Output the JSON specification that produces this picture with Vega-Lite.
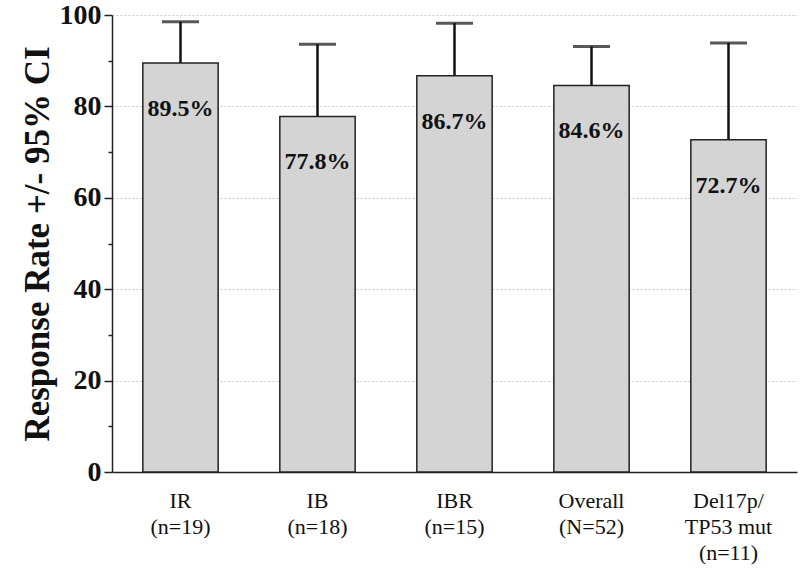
{
  "$schema": "https://vega.github.io/schema/vega-lite/v6.json",
  "width": 685,
  "height": 457,
  "autosize": "none",
  "padding": {"left": 112, "top": 15, "right": 3, "bottom": 96},
  "background": "white",
  "data": {
    "values": [
      {"group": "IR|(n=19)", "rate": 89.5, "upper": 98.5, "label": "89.5%"},
      {"group": "IB|(n=18)", "rate": 77.8, "upper": 93.6, "label": "77.8%"},
      {"group": "IBR|(n=15)", "rate": 86.7, "upper": 98.2, "label": "86.7%"},
      {"group": "Overall|(N=52)", "rate": 84.6, "upper": 93.1, "label": "84.6%"},
      {"group": "Del17p/|TP53 mut|(n=11)", "rate": 72.7, "upper": 93.9, "label": "72.7%"}
    ]
  },
  "encoding": {
    "x": {
      "field": "group", "type": "nominal", "sort": null,
      "scale": {"paddingInner": 0.45, "paddingOuter": 0.225},
      "axis": {
        "title": null, "labelAngle": 0, "ticks": false,
        "labelExpr": "split(datum.label, '|')",
        "labelFont": "Liberation Serif", "labelFontSize": 22, "labelColor": "#111",
        "labelLineHeight": 26, "labelPadding": 18,
        "domainColor": "#222", "domainWidth": 1.5, "grid": false
      }
    }
  },
  "layer": [
    {
      "mark": {"type": "rule", "stroke": "#111", "strokeWidth": 2.5},
      "encoding": {
        "y": {"field": "rate", "type": "quantitative"},
        "y2": {"field": "upper"}
      }
    },
    {
      "mark": {"type": "tick", "color": "#111", "size": 37, "thickness": 3},
      "encoding": {
        "y": {"field": "upper", "type": "quantitative"}
      }
    },
    {
      "mark": {"type": "bar", "fill": "#d4d4d4", "stroke": "#222", "strokeWidth": 1.5},
      "encoding": {
        "y": {
          "field": "rate", "type": "quantitative",
          "scale": {"domain": [0, 100], "nice": false},
          "axis": {
            "title": "Response Rate +/- 95% CI",
            "titleFont": "Liberation Serif", "titleFontSize": 35, "titleFontWeight": "bold",
            "titleColor": "#111", "titlePadding": 4,
            "values": [0, 10, 20, 30, 40, 50, 60, 70, 80, 90, 100],
            "labelExpr": "datum.value % 20 === 0 ? datum.label : ''",
            "labelFont": "Liberation Serif", "labelFontSize": 28, "labelFontWeight": "bold",
            "labelColor": "#111", "labelPadding": 3,
            "tickColor": "#222", "tickWidth": 1.5,
            "tickSize": {"condition": {"test": "datum.value % 20 === 0", "value": 8}, "value": 4},
            "domainColor": "#222", "domainWidth": 1.5,
            "grid": true, "gridColor": "#c8c8c8", "gridDash": [2, 2], "gridWidth": 1,
            "gridOpacity": {"condition": {"test": "datum.value % 20 === 0 && datum.value > 0", "value": 1}, "value": 0}
          }
        }
      }
    },
    {
      "mark": {"type": "text", "font": "Liberation Serif", "fontSize": 24, "fontWeight": "bold", "color": "#111", "baseline": "middle", "dy": 46},
      "encoding": {
        "y": {"field": "rate", "type": "quantitative"},
        "text": {"field": "label"}
      }
    }
  ],
  "config": {"view": {"stroke": null}}
}
